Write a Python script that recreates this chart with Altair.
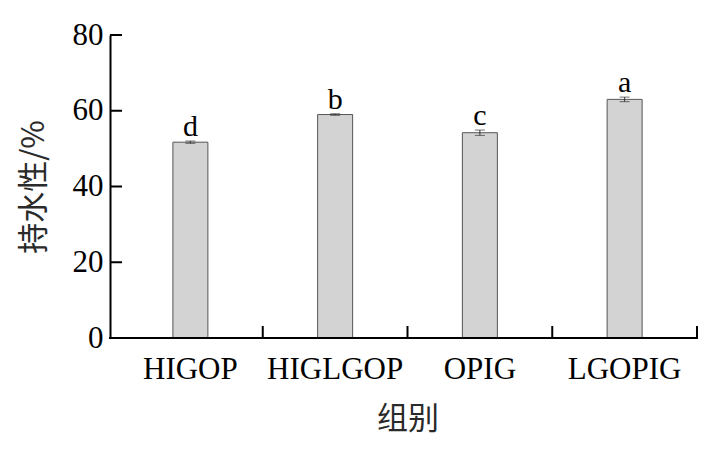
import altair as alt
import pandas as pd

groups = ["HIGOP", "HIGLGOP", "OPIG", "LGOPIG"]
means = [51.7, 59.0, 54.2, 63.0]
errors = [0.3, 0.2, 0.7, 0.6]
letters = ["d", "b", "c", "a"]
y_ticks = [0, 20, 40, 60, 80]

df = pd.DataFrame({"group": groups, "mean": means, "err": errors, "letter": letters})
df["lo"] = df["mean"] - df["err"]
df["hi"] = df["mean"] + df["err"]
tick_df = pd.DataFrame({"v": y_ticks})

W, H = 587, 303
xscale = alt.Scale(domain=groups, paddingInner=0, paddingOuter=0, range=[8, W])
yscale = alt.Scale(domain=[0, 80], nice=False)

xaxis = alt.Axis(title="组别", labelAngle=0, ticks=False, domain=False,
                 labelPadding=16, titlePadding=20)
yaxis = alt.Axis(values=y_ticks, title="持水性/%", ticks=False, labelPadding=7,
                 titlePadding=22)


def X(field, **kw):
    return alt.X(field, scale=xscale, sort=groups, axis=xaxis, **kw)


def Y(field):
    return alt.Y(field, scale=yscale, axis=yaxis)


base = alt.Chart(df)

bars = base.mark_bar(size=35, color="#d3d3d3", stroke="#555555", strokeWidth=1).encode(
    x=X("group:N"),
    y=Y("mean:Q"),
)

err_rule = base.mark_rule(color="#333333", strokeWidth=1).encode(
    x=X("group:N"),
    y=Y("lo:Q"),
    y2="hi:Q",
)
cap_hi = base.mark_tick(color="#333333", size=10, thickness=1).encode(
    x=X("group:N"),
    y=Y("hi:Q"),
)
cap_lo = base.mark_tick(color="#333333", size=10, thickness=1).encode(
    x=X("group:N"),
    y=Y("lo:Q"),
)

labels = base.mark_text(font="Liberation Serif", fontSize=30, color="black",
                        baseline="alphabetic", dy=-5).encode(
    x=X("group:N"),
    y=Y("hi:Q"),
    text="letter:N",
)

yticks = alt.Chart(tick_df).mark_rule(color="black", strokeWidth=2).encode(
    y=Y("v:Q"),
    x=alt.value(0),
    x2=alt.value(12),
)

xticks = base.mark_rule(color="black", strokeWidth=2).encode(
    x=X("group:N", bandPosition=1),
    y=alt.value(H - 12),
    y2=alt.value(H),
)

xdomain = alt.Chart(tick_df).mark_rule(color="black", strokeWidth=2).encode(
    x=alt.value(-1),
    x2=alt.value(W + 1),
    y=alt.value(H),
)

chart = alt.layer(bars, err_rule, cap_hi, cap_lo, labels, yticks, xticks, xdomain).properties(
    width=W, height=H,
    padding={"left": 102, "top": 27, "right": 4, "bottom": 105},
    autosize=alt.AutoSizeParams(type="none"),
).configure_view(stroke=None).configure_axis(
    grid=False,
    domainColor="black",
    domainWidth=2,
    labelFont="Liberation Serif",
    labelFontSize=31,
    labelColor="black",
    titleFont="Noto Sans CJK SC",
    titleFontSize=31,
    titleFontWeight="normal",
    titleColor="#2a2a2a",
)

chart.save("out.html", embed_options={"renderer": "svg", "actions": False})
